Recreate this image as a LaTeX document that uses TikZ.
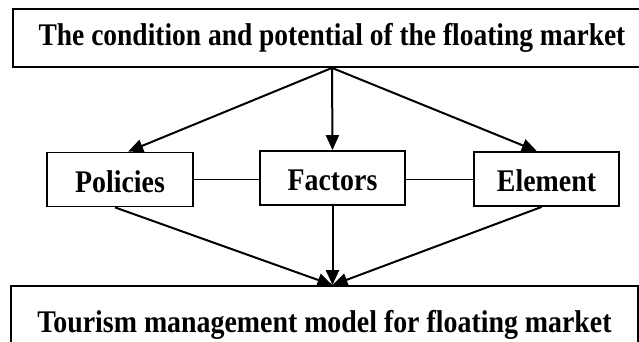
\documentclass[tikz,border=0pt]{standalone}
\usepackage{graphicx}
\usepackage{fontspec}
\setmainfont{Liberation Serif}
\usetikzlibrary{arrows.meta,calc}
\newcommand\hsq[1]{\scalebox{0.885}[1]{#1}}
\newcommand\hsqt[1]{\scalebox{0.872}[1]{#1}}
\begin{document}
\begin{tikzpicture}[x=1pt,y=-1pt,
  box/.style={draw, line width=1.8pt, inner sep=0pt,
    font=\fontsize{31.5}{31.5}\selectfont\bfseries, text height=25pt, text depth=0pt},
  arr/.style={line width=2pt, -{Triangle[length=15pt,width=13pt]}},
  link/.style={line width=1.6pt}]
\useasboundingbox (0,0) rectangle (639,341);
\clip (0,0) rectangle (639,341);
\node[box, minimum width=638pt, minimum height=58pt, text height=20.5pt, text depth=6pt] (top) at (332,38)
  {\hsqt{The condition and potential of the floating market}};
\node[box, minimum width=146pt, minimum height=54pt] (pol) at (120,179.5) {\hsq{Policies}};
\node[box, minimum width=145pt, minimum height=54pt] (fac) at (332.5,178) {\hsq{Factors}};
\node[box, minimum width=145pt, minimum height=54pt] (ele) at (546.5,179) {\hsq{Element}};
\node[box, minimum width=627pt, minimum height=73pt, text height=20.5pt] (bot) at (324.5,322.5)
  {\hsq{Tourism management model for floating market}};
\draw[arr] (top.south) -- ($(pol.north west)!0.555!(pol.north east)$);
\draw[arr] (top.south) -- (fac.north);
\draw[arr] (top.south) -- ($(ele.north west)!0.434!(ele.north east)$);
\draw[link] (pol.east) -- (pol.east -| fac.west);
\draw[link] (pol.east -| fac.east) -- (pol.east -| ele.west);
\coordinate (m) at (fac.south |- bot.north);
\draw[arr] ($(pol.south west)!0.466!(pol.south east)$) -- (m);
\draw[arr] (fac.south) -- (m);
\draw[arr] ($(ele.south west)!0.467!(ele.south east)$) -- (m);
\end{tikzpicture}
\end{document}
